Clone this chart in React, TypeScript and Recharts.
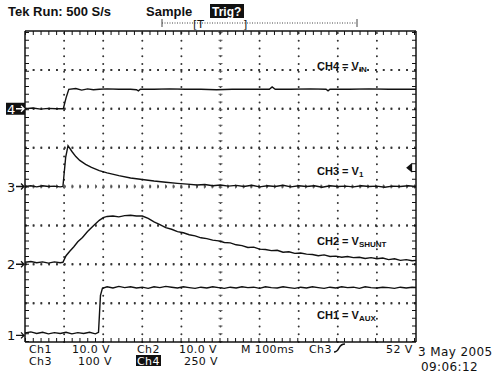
import { CartesianGrid, Line, LineChart, ReferenceDot, ReferenceLine, XAxis, YAxis } from "recharts";

// time in divisions (100 ms/div), level in divisions from the bottom of the screen
const ch4Time = [0, 0.2, 0.4, 0.6, 0.8, 0.98, 1.05, 1.12, 1.3, 1.45, 1.6, 1.75, 1.9, 2.1, 2.4, 2.7, 2.85, 2.9, 2.95, 3.3, 3.7, 4.1, 4.5, 4.9, 5.3, 5.7, 6.1, 6.25, 6.32, 6.4, 6.8, 7.3, 7.7, 7.75, 7.8, 8.3, 8.8, 9.3, 9.7, 10];
const ch4Level = [6.0, 6.02, 5.99, 6.01, 6.0, 6.0, 6.28, 6.5, 6.52, 6.48, 6.51, 6.49, 6.5, 6.51, 6.5, 6.5, 6.49, 6.46, 6.5, 6.5, 6.51, 6.5, 6.5, 6.49, 6.5, 6.5, 6.5, 6.5, 6.56, 6.5, 6.5, 6.51, 6.5, 6.46, 6.5, 6.5, 6.51, 6.5, 6.5, 6.5];

const ch3Time = [0, 0.15, 0.3, 0.45, 0.6, 0.75, 0.9, 0.97, 1.04, 1.1, 1.2, 1.3, 1.4, 1.55, 1.7, 1.9, 2.1, 2.4, 2.7, 3.0, 3.3, 3.6, 3.9, 4.15, 4.4, 4.6, 4.8, 5.0, 5.2, 5.4, 5.6, 5.8, 6.0, 6.2, 6.4, 6.6, 6.8, 7.0, 7.2, 7.4, 7.6, 7.8, 8.0, 8.2, 8.4, 8.6, 8.8, 9.0, 9.2, 9.4, 9.6, 9.8, 10];
const ch3Level = [4.0, 4.02, 3.99, 4.02, 4.0, 4.01, 3.99, 4.0, 4.75, 5.05, 4.9, 4.77, 4.67, 4.57, 4.49, 4.41, 4.35, 4.28, 4.22, 4.18, 4.14, 4.11, 4.08, 4.06, 4.04, 4.05, 4.02, 4.04, 4.01, 4.03, 4.0, 4.03, 3.99, 4.02, 4.0, 4.03, 3.99, 4.02, 4.0, 4.02, 3.98, 4.02, 4.0, 4.01, 3.99, 4.02, 4.0, 4.01, 3.98, 4.01, 4.0, 4.02, 4.0];

const ch2Time = [0, 0.15, 0.3, 0.45, 0.6, 0.75, 0.9, 0.97, 1.05, 1.15, 1.25, 1.35, 1.47, 1.6, 1.75, 1.9, 2.0, 2.1, 2.25, 2.4, 2.55, 2.7, 2.85, 3.0, 3.15, 3.3, 3.45, 3.6, 3.75, 3.9, 4.05, 4.2, 4.35, 4.5, 4.65, 4.8, 4.95, 5.1, 5.25, 5.4, 5.55, 5.7, 5.85, 6.0, 6.15, 6.3, 6.45, 6.6, 6.75, 6.9, 7.05, 7.2, 7.35, 7.5, 7.65, 7.8, 7.95, 8.1, 8.25, 8.4, 8.55, 8.7, 8.85, 9.0, 9.15, 9.3, 9.45, 9.6, 9.75, 9.9, 10];
const ch2Level = [2.05, 2.07, 2.04, 2.06, 2.03, 2.06, 2.04, 2.05, 2.22, 2.34, 2.45, 2.58, 2.69, 2.84, 2.99, 3.13, 3.2, 3.23, 3.24, 3.22, 3.25, 3.26, 3.24, 3.24, 3.18, 3.09, 3.02, 2.94, 2.9, 2.84, 2.81, 2.76, 2.73, 2.68, 2.66, 2.62, 2.6, 2.56, 2.55, 2.5, 2.48, 2.43, 2.44, 2.39, 2.38, 2.35, 2.36, 2.31, 2.32, 2.28, 2.29, 2.26, 2.25, 2.22, 2.24, 2.2, 2.21, 2.18, 2.2, 2.17, 2.18, 2.15, 2.17, 2.14, 2.16, 2.12, 2.14, 2.1, 2.12, 2.09, 2.1];

const ch1Time = [0, 0.15, 0.3, 0.45, 0.6, 0.75, 0.9, 1.05, 1.2, 1.35, 1.5, 1.65, 1.8, 1.88, 1.93, 1.98, 2.1, 2.25, 2.4, 2.55, 2.7, 2.85, 3.0, 3.15, 3.3, 3.45, 3.6, 3.75, 3.9, 4.05, 4.2, 4.35, 4.5, 4.65, 4.8, 4.95, 5.1, 5.25, 5.4, 5.55, 5.7, 5.85, 6.0, 6.15, 6.3, 6.45, 6.6, 6.75, 6.9, 7.05, 7.2, 7.35, 7.5, 7.65, 7.8, 7.95, 8.1, 8.25, 8.4, 8.55, 8.7, 8.85, 9.0, 9.15, 9.3, 9.45, 9.6, 9.75, 9.9, 10];
const ch1Level = [0.23, 0.26, 0.22, 0.25, 0.21, 0.24, 0.22, 0.25, 0.21, 0.24, 0.22, 0.25, 0.21, 0.25, 1.2, 1.38, 1.42, 1.39, 1.43, 1.4, 1.42, 1.39, 1.41, 1.38, 1.42, 1.4, 1.43, 1.41, 1.39, 1.42, 1.4, 1.38, 1.41, 1.39, 1.42, 1.4, 1.38, 1.41, 1.39, 1.42, 1.4, 1.41, 1.38, 1.42, 1.4, 1.39, 1.42, 1.4, 1.38, 1.41, 1.39, 1.42, 1.4, 1.38, 1.41, 1.39, 1.42, 1.4, 1.41, 1.38, 1.42, 1.4, 1.39, 1.41, 1.4, 1.38, 1.41, 1.39, 1.41, 1.4];

const groundLevels = [6.0, 4.0, 2.0, 0.17];
const groundNames = ["4", "3", "2", "1"];
const triggerLevel = 4.48;

const toRows = (t: number[], v: number[]) => t.map((x, i) => ({ t: x, v: v[i] }));
const ch4 = toRows(ch4Time, ch4Level);
const ch3 = toRows(ch3Time, ch3Level);
const ch2 = toRows(ch2Time, ch2Level);
const ch1 = toRows(ch1Time, ch1Level);

const gridX = [1, 2, 3, 4, 5, 6, 7, 8, 9];
const gridY = [1, 2, 3, 4, 5, 6, 7];

const ink = "#111";
const dots = "#333";
const mono = "'DejaVu Sans', sans-serif";
const label = "'Liberation Sans', Arial, sans-serif";

// short marks every fifth of a division along a line, optionally shifted
const dashLine = (dx: number, dy: number, dash: string, width: number, color: string, cap = "butt") => (p: any) => (
  <line x1={p.x1 + dx} y1={p.y1 + dy} x2={p.x2 + dx} y2={p.y2 + dy} stroke={color} strokeWidth={width} strokeDasharray={dash} strokeLinecap={cap as any} />
);

// horizontal grid rows at whole divisions of the plot height
const gridRows = ({ offset }: any) => gridY.map((v) => offset.top + offset.height - (v / 8) * offset.height);

function GroundMarker(props: any) {
  const { cx, cy, name } = props;
  const boxed = name === "4";
  return (
    <g>
      {boxed && <rect x={cx - 19} y={cy - 6} width={19} height={12} fill={ink} />}
      <text x={cx - 18} y={cy + 5} fontSize={13} fontFamily={mono} fill={boxed ? "#fff" : ink}>{name}</text>
      <path d={`M${cx - 9},${cy} L${cx - 1},${cy} M${cx - 4},${cy - 3} L${cx - 1},${cy} L${cx - 4},${cy + 3}`} stroke={boxed ? "#fff" : ink} strokeWidth={1.3} fill="none" />
    </g>
  );
}

export default function App() {
  const vDash = "1 6.725";
  const hDash = "1 6.78";
  const vDot = "0 7.725";
  const hDot = "1.6 6.18";
  return (
    <div style={{ position: "absolute", left: 0, top: 0, width: 500, height: 375, background: "#fff", overflow: "hidden" }}>
      <LineChart width={500} height={375} margin={{ top: 31, right: 84, bottom: 33, left: 25 }}>
        <XAxis xAxisId="b" dataKey="t" type="number" domain={[0, 10]} ticks={[0, 10]} orientation="bottom" height={1} mirror tick={false} tickLine={false} axisLine={{ stroke: ink, strokeWidth: 1.5 }} allowDataOverflow />
        <XAxis xAxisId="t" dataKey="t" type="number" domain={[0, 10]} ticks={[0, 10]} orientation="top" height={1} mirror tick={false} tickLine={false} axisLine={{ stroke: ink, strokeWidth: 1.5 }} />
        <YAxis yAxisId="l" type="number" domain={[0, 8]} ticks={[0, 8]} orientation="left" width={1} mirror tick={false} tickLine={false} axisLine={{ stroke: ink, strokeWidth: 1.5 }} allowDataOverflow />
        <YAxis yAxisId="r" type="number" domain={[0, 8]} ticks={[0, 8]} orientation="right" width={1} mirror tick={false} tickLine={false} axisLine={{ stroke: ink, strokeWidth: 1.5 }} />

        <CartesianGrid xAxisId="b" yAxisId="l" vertical={false} horizontalCoordinatesGenerator={gridRows} stroke={dots} strokeWidth={2} strokeDasharray={hDot} />
        {gridX.map((v) => (
          <ReferenceLine key={`gx${v}`} xAxisId="b" yAxisId="l" x={v} stroke={dots} shape={dashLine(0, 0, vDot, 2, dots, "round")} />
        ))}
        {gridY.map((v) => (
          <ReferenceLine key={`gy${v}`} xAxisId="b" yAxisId="l" y={v} ifOverflow="visible" stroke={dots} shape={dashLine(0, 0, hDot, 2, dots)} />
        ))}
        <ReferenceLine xAxisId="b" yAxisId="l" x={5} stroke="#666" shape={dashLine(0, 0, vDash, 4, "#666")} />
        <ReferenceLine xAxisId="b" yAxisId="l" y={4} stroke="#666" shape={dashLine(0, 0, hDash, 4, "#666")} />
        <ReferenceLine xAxisId="b" yAxisId="l" x={0} stroke={ink} shape={dashLine(2, 0, vDash, 4, ink)} />
        <ReferenceLine xAxisId="b" yAxisId="l" x={10} stroke={ink} shape={dashLine(-2, 0, vDash, 4, ink)} />
        <ReferenceLine xAxisId="b" yAxisId="l" y={0} stroke={ink} shape={dashLine(0, -2, hDash, 4, ink)} />
        <ReferenceLine xAxisId="b" yAxisId="l" y={8} stroke={ink} shape={dashLine(0, 2, hDash, 4, ink)} />

        <Line xAxisId="b" yAxisId="l" data={ch4} dataKey="v" type="linear" stroke={ink} strokeWidth={1.4} dot={false} isAnimationActive={false} />
        <Line xAxisId="b" yAxisId="l" data={ch3} dataKey="v" type="linear" stroke={ink} strokeWidth={1.4} dot={false} isAnimationActive={false} />
        <Line xAxisId="b" yAxisId="l" data={ch2} dataKey="v" type="linear" stroke={ink} strokeWidth={1.4} dot={false} isAnimationActive={false} />
        <Line xAxisId="b" yAxisId="l" data={ch1} dataKey="v" type="linear" stroke={ink} strokeWidth={1.4} dot={false} isAnimationActive={false} />
        {groundLevels.map((lv, i) => (
          <ReferenceDot key={groundNames[i]} xAxisId="b" yAxisId="l" x={0} y={lv} ifOverflow="visible" shape={(p: any) => <GroundMarker {...p} name={groundNames[i]} />} />
        ))}
        <ReferenceDot xAxisId="b" yAxisId="l" x={9.85} y={triggerLevel} ifOverflow="visible" shape={(p: any) => <path d={`M${p.cx - 4},${p.cy} L${p.cx + 2},${p.cy - 5} L${p.cx + 2},${p.cy + 5} Z`} fill={ink} />} />
      </LineChart>

      <svg width={500} height={375} style={{ position: "absolute", left: 0, top: 0, pointerEvents: "none" }}>
        <g fontFamily={label} fontWeight="bold" fontSize={13} fill={ink}>
          <text x={8} y={16}>Tek Run: 500 S/s</text>
          <text x={146} y={16}>Sample</text>
          <rect x={210} y={4} width={34} height={14} fill={ink} />
          <text x={212} y={16} fill="#fff" fontSize={12}>Trig?</text>
        </g>
        <line x1={162} x2={357} y1={23} y2={23} stroke="#444" strokeDasharray="1 1.5" />
        <line x1={162} x2={162} y1={19} y2={27} stroke="#444" />
        <line x1={357} x2={357} y1={19} y2={27} stroke="#444" />
        <text x={193} y={28} fontFamily={mono} fontSize={11} fill={ink}>[T</text>
        <text x={243} y={28} fontFamily={mono} fontSize={11} fill={ink}>]</text>

        <g fontFamily={label} fontWeight="bold" fontSize={11} fill={ink}>
          <text x={317} y={70}>CH4 = V<tspan fontSize={8} dy={2}>IN</tspan></text>
          <text x={317} y={175}>CH3 = V<tspan fontSize={8} dy={2}>1</tspan></text>
          <text x={317} y={245}>CH2 = V<tspan fontSize={8} dy={2}>SHUNT</tspan></text>
          <text x={317} y={319}>CH1 = V<tspan fontSize={8} dy={2}>AUX</tspan></text>
        </g>

        <g fontFamily={mono} fontSize={11} fill={ink} letterSpacing={0.4}>
          <text x={29} y={353}>Ch1</text>
          <text x={72} y={353}>10.0 V</text>
          <text x={137} y={353}>Ch2</text>
          <text x={179} y={353}>10.0 V</text>
          <text x={241} y={353}>M 100ms</text>
          <text x={309} y={353}>Ch3</text>
          <text x={386} y={353}>52 V</text>
          <text x={29} y={365}>Ch3</text>
          <text x={78} y={365}>100 V</text>
          <rect x={136} y={355} width={25} height={11} fill={ink} />
          <text x={137} y={365} fill="#fff">Ch4</text>
          <text x={184} y={365}>250 V</text>
          <text x={418} y={356} fontSize={12}>3 May 2005</text>
          <text x={421} y={371} fontSize={12}>09:06:12</text>
        </g>
        <path d="M334,352 Q337,352 339,348 Q341,344 345,344" stroke={ink} strokeWidth={1.6} fill="none" />
      </svg>
    </div>
  );
}
